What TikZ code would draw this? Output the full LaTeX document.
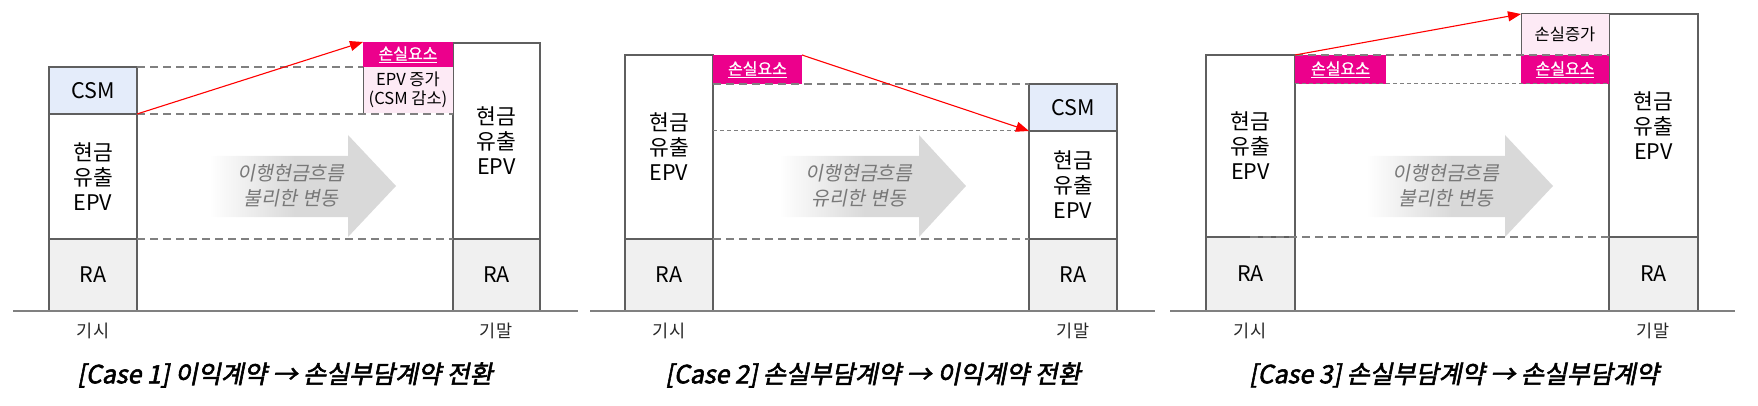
\documentclass[tikz,border=0pt]{standalone}
\usepackage{fontspec}
\setmainfont{Noto Sans CJK KR}
\newfontfamily\capfont[FakeSlant=0.2,FakeBold=2.2]{Noto Sans CJK KR}
\newfontfamily\slfont[FakeSlant=0.2]{Noto Sans CJK KR}
\newfontfamily\lossfont[FakeBold=1.2]{Noto Sans CJK KR}
\usetikzlibrary{arrows.meta}
\definecolor{csmblue}{RGB}{228,236,250}
\definecolor{ragray}{RGB}{240,240,240}
\definecolor{losspink}{RGB}{236,0,140}
\definecolor{lightpink}{RGB}{253,234,245}
\definecolor{bordergray}{RGB}{95,95,95}
\definecolor{dashgray}{RGB}{128,128,128}
\definecolor{arrowgray}{RGB}{217,217,217}
\definecolor{textgray}{RGB}{120,120,120}
\pgfdeclarehorizontalshading{flowshade}{100bp}{color(0bp)=(white); color(25bp)=(white); color(48bp)=(arrowgray); color(100bp)=(arrowgray)}
\tikzset{
  box/.style={draw=bordergray, line width=1.3pt, inner sep=0pt, outer sep=0pt,
    anchor=north west, align=center, font=\fontsize{21.5}{25}\selectfont},
  csmbox/.style={box, fill=csmblue},
  rabox/.style={box, fill=ragray},
  lossbox/.style={fill=losspink, inner sep=0pt, outer sep=0pt, anchor=north west,
    text=white, font=\lossfont\fontsize{16}{18}\selectfont},
  incbox/.style={fill=lightpink, inner sep=0pt, outer sep=0pt, anchor=north west,
    align=center, font=\fontsize{16.5}{19}\selectfont},
  dashline/.style={draw=dashgray, line width=2pt, dash pattern=on 8pt off 5pt},
  fineline/.style={draw=dashgray, line width=1pt, dash pattern=on 4pt off 3pt},
  thinborder/.style={draw=bordergray, line width=1pt},
  redarrow/.style={draw=red, line width=1.1pt, -{Triangle[length=13pt,width=10pt]}},
  baseline/.style={draw=dashgray, line width=2pt},
  period/.style={font=\fontsize{17.5}{20}\selectfont, text=black!85},
  flowtext/.style={align=center, text=textgray, font=\slfont\fontsize{19.5}{25}\selectfont},
  caption/.style={font=\capfont\fontsize{25}{28}\selectfont}
}
\begin{document}
\begin{tikzpicture}[x=1pt,y=-1pt]
\useasboundingbox (0,0) rectangle (1758,406);

% ---- flow arrows (background) ----
\shade[shading=flowshade] (209,156) -- (348,156) -- (348,135) -- (396,186) -- (348,237) -- (348,217) -- (209,217) -- cycle;
\shade[shading=flowshade] (779,156) -- (919,156) -- (919,135) -- (966,186) -- (919,237) -- (919,217) -- (779,217) -- cycle;
\shade[shading=flowshade] (1366,156) -- (1505,156) -- (1505,135) -- (1553,186) -- (1505,237) -- (1505,217) -- (1366,217) -- cycle;

% ================= Case 1 =================
\node[csmbox, minimum width=88pt, minimum height=47pt] (c1csm) at (49,67) {CSM};
\node[box, minimum width=88pt, minimum height=125pt] (c1epv) at (49,114) {현금\\유출\\EPV};
\node[rabox, minimum width=88pt, minimum height=72pt] (c1ra) at (49,239) {RA};
\node[box, minimum width=87pt, minimum height=196pt] (c1repv) at (453,43) {현금\\유출\\EPV};
\node[rabox, minimum width=87pt, minimum height=72pt] (c1rra) at (453,239) {RA};
\node[lossbox, minimum width=90pt, minimum height=25pt] (c1loss) at (363,42) {\underline{손실요소}};
\node[incbox, minimum width=90pt, minimum height=46pt] (c1inc) at (363,67) {EPV 증가\\(CSM 감소)};
\draw[thinborder] (c1inc.north west) -- (c1inc.south west);
\draw[dashline] (c1csm.north east) -- (c1csm.north east -| c1inc.west);
\draw[dashline] (c1csm.south east) -- (c1csm.south east -| c1repv.west);
\draw[dashline] (c1ra.north east) -- (c1rra.north west);
\draw[redarrow] (c1csm.south east) -- (c1loss.north west);
\coordinate (c1b0) at (13,311);
\coordinate (c1b1) at (578,311);
\draw[baseline] (c1b0) -- (c1b1);
\node[flowtext] (c1flow) at (291,186) {이행현금흐름\\불리한 변동};
\node[period] (c1start) at (93,331) {기시};
\node[period] (c1end) at (496,331) {기말};
\node[caption] (c1cap) at (285,375) {[Case 1] 이익계약 → 손실부담계약 전환};

% ================= Case 2 =================
\node[box, minimum width=88pt, minimum height=184pt] (c2epv) at (625,55) {현금\\유출\\EPV};
\node[rabox, minimum width=88pt, minimum height=72pt] (c2ra) at (625,239) {RA};
\node[lossbox, minimum width=89pt, minimum height=29pt] (c2loss) at (713,55) {\underline{손실요소}};
\node[csmbox, minimum width=88pt, minimum height=47pt] (c2csm) at (1029,84) {CSM};
\node[box, minimum width=88pt, minimum height=108pt] (c2repv) at (1029,131) {현금\\유출\\EPV};
\node[rabox, minimum width=88pt, minimum height=72pt] (c2rra) at (1029,239) {RA};
\draw[dashline] (c2loss.south west) -- (c2loss.south west -| c2csm.west);
\draw[fineline] (c2csm.south west -| c2epv.east) -- (c2csm.south west);
\draw[dashline] (c2ra.north east) -- (c2rra.north west);
\draw[redarrow] (c2loss.north east) -- (c2csm.south west);
\coordinate (c2b0) at (590,311);
\coordinate (c2b1) at (1155,311);
\draw[baseline] (c2b0) -- (c2b1);
\node[flowtext] (c2flow) at (859,186) {이행현금흐름\\유리한 변동};
\node[period] (c2start) at (669,331) {기시};
\node[period] (c2end) at (1073,331) {기말};
\node[caption] (c2cap) at (873,375) {[Case 2] 손실부담계약 → 이익계약 전환};

% ================= Case 3 =================
\node[box, minimum width=89pt, minimum height=182pt] (c3epv) at (1206,55) {현금\\유출\\EPV};
\node[rabox, minimum width=89pt, minimum height=74pt] (c3ra) at (1206,237) {RA};
\node[lossbox, minimum width=91pt, minimum height=29pt] (c3loss1) at (1295,55) {\underline{손실요소}};
\node[box, minimum width=89pt, minimum height=223pt] (c3repv) at (1609,14) {현금\\유출\\EPV};
\node[rabox, minimum width=89pt, minimum height=74pt] (c3rra) at (1609,237) {RA};
\node[incbox, minimum width=88pt, minimum height=41pt] (c3inc) at (1521,14) {손실증가};
\draw[thinborder] (c3inc.south west) |- (c3inc.north east);
\node[lossbox, minimum width=88pt, minimum height=29pt] (c3loss2) at (1521,55) {\underline{손실요소}};
\draw[dashline] (c3loss1.north west) -- (c3loss1.north west -| c3repv.west);
\draw[fineline] (c3loss1.south west) -- (c3loss1.south west -| c3repv.west);
\coordinate (c3d0) at (1250,237);
\draw[dashline] (c3d0) -- (c3rra.north west);
\draw[redarrow] (c3loss1.north west) -- (c3inc.north west);
\coordinate (c3b0) at (1170,311);
\coordinate (c3b1) at (1735,311);
\draw[baseline] (c3b0) -- (c3b1);
\node[flowtext] (c3flow) at (1446,186) {이행현금흐름\\불리한 변동};
\node[period] (c3start) at (1250,331) {기시};
\node[period] (c3end) at (1653,331) {기말};
\node[caption] (c3cap) at (1454,375) {[Case 3] 손실부담계약 → 손실부담계약};
\end{tikzpicture}
\end{document}
